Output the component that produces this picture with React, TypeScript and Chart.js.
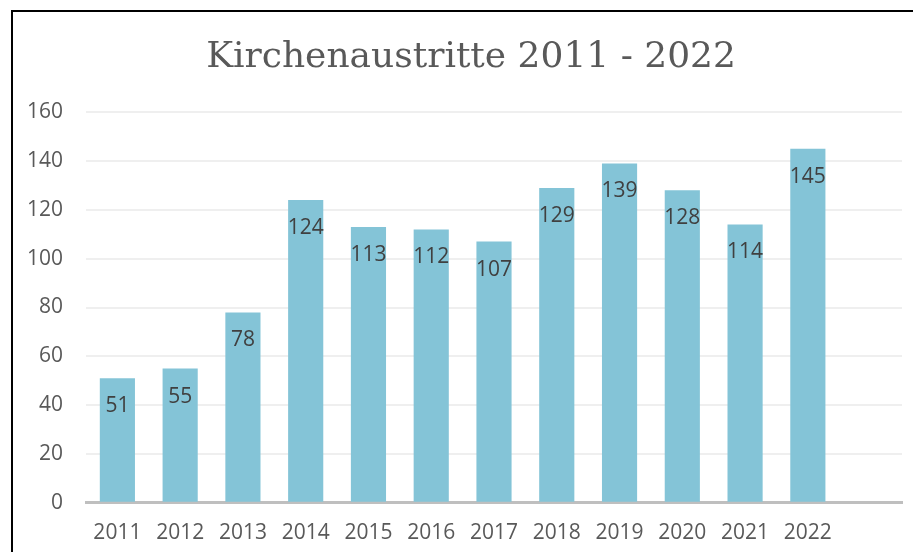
import React, { useEffect, useRef } from "react";
import { Chart, registerables } from "chart.js";

Chart.register(...registerables);

const categories = ["2011", "2012", "2013", "2014", "2015", "2016", "2017", "2018", "2019", "2020", "2021", "2022", ""];
const austritte = [51, 55, 78, 124, 113, 112, 107, 129, 139, 128, 114, 145, null];
const titleText = "Kirchenaustritte 2011 - 2022";

const labelPlugin = {
  id: "barLabels",
  afterLayout(chart: any) {
    if (chart.titleBlock) chart.titleBlock.left = 40;
  },
  afterDatasetsDraw(chart: any) {
    const ctx = chart.ctx;
    const meta = chart.getDatasetMeta(0);
    ctx.save();
    ctx.font = "21px 'Open Sans'";
    ctx.fillStyle = "#404040";
    ctx.textAlign = "center";
    ctx.textBaseline = "middle";
    meta.data.forEach((bar: any, i: number) => {
      const v = austritte[i];
      if (v == null) return;
      ctx.fillText(String(v), bar.x, bar.y + 28);
    });
    ctx.restore();
  },
};

export default function App() {
  const ref = useRef<HTMLCanvasElement>(null);
  useEffect(() => {
    const chart = new Chart(ref.current!, {
      type: "bar",
      data: {
        labels: categories,
        datasets: [
          {
            data: austritte as any,
            backgroundColor: "#84c4d7",
            categoryPercentage: 1,
            barPercentage: 0.56,
          },
        ],
      },
      options: {
        animation: false,
        responsive: false,
        layout: { padding: { left: 0, right: 11, top: 0, bottom: 8 } },
        plugins: {
          legend: { display: false },
          tooltip: { enabled: false },
          title: {
            display: true,
            text: titleText,
            color: "#595959",
            font: { family: "'DejaVu Serif'", size: 36, weight: "normal" },
            padding: { top: 36, bottom: 33 },
          },
        },
        scales: {
          x: {
            grid: { display: false, drawTicks: false },
            border: { display: true, color: "#bfbfbf", width: 3 },
            ticks: { color: "#595959", font: { family: "'Open Sans'", size: 21 }, padding: 18, maxRotation: 0 },
          },
          y: {
            min: 0,
            max: 160,
            afterFit(scale: any) {
              scale.width = 86;
            },
            grid: { color: "#efefef", lineWidth: 2, drawTicks: false },
            border: { display: false },
            ticks: { stepSize: 20, color: "#595959", font: { family: "'Open Sans'", size: 21 }, padding: 23 },
          },
        },
      },
      plugins: [labelPlugin],
    });
    return () => chart.destroy();
  }, []);
  return (
    <div style={{ position: "fixed", left: 0, top: 0, width: 913, height: 552, overflow: "hidden", background: "#fff" }}>
      <div
        style={{
          position: "absolute",
          left: 11,
          top: 10,
          width: 920,
          height: 600,
          borderTop: "2px solid #000",
          borderLeft: "2px solid #000",
        }}
      />
      <canvas ref={ref} width={913} height={572} style={{ position: "absolute", left: 0, top: 0 }} />
    </div>
  );
}
